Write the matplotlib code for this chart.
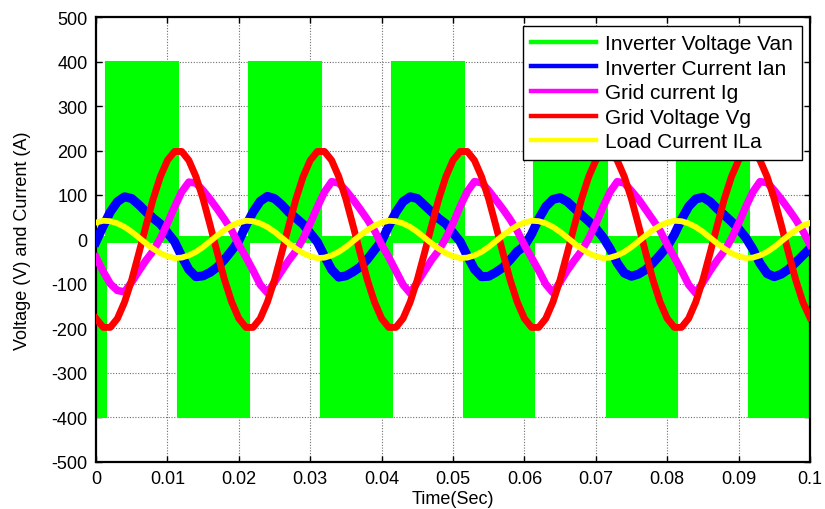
import numpy as np
import matplotlib
matplotlib.use("Agg")
import matplotlib.pyplot as plt
from matplotlib.lines import Line2D

plt.rcParams['font.family'] = ['Liberation Sans', 'DejaVu Sans']
plt.rcParams['axes.unicode_minus'] = False

# Sampling instants (s), 1 ms step over 0 .. 0.1 s
time_ms = np.arange(101)
t = time_ms * 0.001

# Inverter phase voltage Van: switching instants (s) and block levels (V)
van_edges = [0.0, 0.0014, 0.0115, 0.0214, 0.0315, 0.0414, 0.0515,
             0.0614, 0.0715, 0.0814, 0.0915, 0.1]
van_levels = [-400, 400, -400, 400, -400, 400, -400, 400, -400, 400, -400]

# Inverter current Ian (A)
ian = [-5, 30, 62, 85, 96, 92, 78, 62, 48, 35, 15, -5, -38, -68, -84, -82, -74, -62, -45, -25,
       -3, 31, 62, 86, 97, 92, 78, 61, 48, 34, 14, -6, -38, -68, -85, -82, -73, -62, -45, -24,
       -4, 30, 61, 85, 96, 92, 77, 62, 47, 35, 15, -5, -37, -67, -84, -83, -74, -63, -46, -27,
       -15, 12, 46, 74, 90, 94, 85, 70, 55, 41, 25, 5, -21, -53, -76, -83, -78, -68, -53, -35,
       -16, 11, 45, 74, 91, 95, 85, 69, 55, 40, 24, 4, -22, -54, -77, -84, -78, -67, -52, -36,
       -20]

# Grid current Ig (A)
ig = [-40, -72, -100, -115, -118, -96, -71, -47, -26, 2, 36, 73, 107, 129, 127, 110, 90, 68, 45, 20,
      -12, -40, -70, -102, -120, -96, -71, -47, -26, 2, 36, 73, 107, 130, 127, 110, 90, 68, 45, 20,
      -12, -40, -71, -102, -121, -97, -71, -46, -25, 3, 36, 74, 108, 130, 128, 110, 89, 68, 45, 19,
      -13, -41, -70, -101, -120, -96, -70, -47, -26, 2, 35, 73, 107, 130, 127, 109, 90, 67, 44, 20,
      -12, -40, -70, -102, -121, -97, -71, -47, -26, 2, 36, 73, 107, 130, 128, 110, 90, 68, 45, 19,
      -12]

# Grid voltage Vg (V)
vg = [-178, -198, -198, -178, -141, -91, -31, 31, 91, 141, 178, 198, 198, 178, 141, 91, 31, -31, -91, -141,
      -178, -198, -198, -178, -141, -91, -31, 31, 91, 141, 178, 198, 198, 178, 141, 91, 31, -31, -91, -141,
      -178, -198, -198, -178, -141, -91, -31, 31, 91, 141, 178, 198, 198, 178, 141, 91, 31, -31, -91, -141,
      -178, -198, -198, -178, -141, -91, -31, 31, 91, 141, 178, 198, 198, 178, 141, 91, 31, -31, -91, -141,
      -178, -198, -198, -178, -141, -91, -31, 31, 91, 141, 178, 198, 198, 178, 141, 91, 31, -31, -91, -141,
      -176]

# Load current ILa (A)
ila = [38, 42, 41, 36, 28, 17, 4, -9, -21, -31, -38, -42, -41, -36, -28, -17, -4, 9, 21, 31,
       38, 42, 41, 36, 28, 17, 4, -9, -21, -31, -38, -42, -41, -36, -28, -17, -4, 9, 21, 31,
       38, 42, 41, 36, 28, 17, 4, -9, -21, -31, -38, -42, -41, -36, -28, -17, -4, 9, 21, 31,
       38, 42, 41, 36, 28, 17, 4, -9, -21, -31, -38, -42, -41, -36, -28, -17, -4, 9, 21, 31,
       38, 42, 41, 36, 28, 17, 4, -9, -21, -31, -38, -42, -41, -36, -28, -17, -4, 9, 21, 31,
       37]

labels = ['Inverter Voltage Van', 'Inverter Current Ian', 'Grid current Ig',
          'Grid Voltage Vg', 'Load Current ILa']
colors = ['#00FF00', '#0000FF', '#FF00FF', '#FF0000', '#FFFF00']

x_ticks = [0, 0.01, 0.02, 0.03, 0.04, 0.05, 0.06, 0.07, 0.08, 0.09, 0.1]
x_tick_labels = ['0', '0.01', '0.02', '0.03', '0.04', '0.05', '0.06', '0.07', '0.08', '0.09', '0.1']
y_ticks = [-500, -400, -300, -200, -100, 0, 100, 200, 300, 400, 500]

fs = 13
fig = plt.figure(figsize=(8.25, 5.1), dpi=100)
ax = fig.add_axes([0.1164, 0.0931, 0.8654, 0.8710])

# PWM inverter voltage: filled switching blocks plus the zero-state band
edges = np.asarray(van_edges)
ax.bar(edges[:-1], van_levels, width=np.diff(edges), align='edge',
       color=colors[0], edgecolor=colors[0], linewidth=1.5, zorder=2)
ax.plot([edges[0], edges[-1]], [0, 0], color=colors[0], lw=5, zorder=2,
        solid_capstyle='butt')

ax.plot(t, ian, color=colors[1], lw=6.5, zorder=3, solid_joinstyle='round')
ax.plot(t, ig, color=colors[2], lw=5.4, zorder=4, solid_joinstyle='round')
ax.plot(t, vg, color=colors[3], lw=5.0, zorder=5, solid_joinstyle='round')
ax.plot(t, ila, color=colors[4], lw=4.2, zorder=6, solid_joinstyle='round')

ax.set_xlim(0, 0.1)
ax.set_ylim(-500, 500)
ax.set_xticks(x_ticks)
ax.set_xticklabels(x_tick_labels)
ax.set_yticks(y_ticks)

ax.set_axisbelow(True)
ax.grid(True, color='#6e6e6e', linestyle=(0, (1, 1.5)), linewidth=0.8)

for s in ax.spines.values():
    s.set_linewidth(1.6)
    s.set_color('black')
ax.tick_params(direction='in', length=4, width=1, top=True, right=True,
               labelsize=fs, pad=6, colors='black')

ax.set_xlabel('Time(Sec)', fontsize=fs, labelpad=2)
ax.set_ylabel('Voltage (V) and Current (A)', fontsize=fs, labelpad=15)

handles = [Line2D([0], [0], color=c, lw=3.2) for c in colors]
leg = ax.legend(handles, labels, loc='upper right', fontsize=15,
                frameon=True, fancybox=False, framealpha=1, edgecolor='black',
                handlelength=3.1, handletextpad=0.45, labelspacing=0.27,
                borderpad=0.4, borderaxespad=0.4)
leg.get_frame().set_linewidth(1.0)
leg.set_zorder(10)

fig.savefig('out.png', dpi=100)
